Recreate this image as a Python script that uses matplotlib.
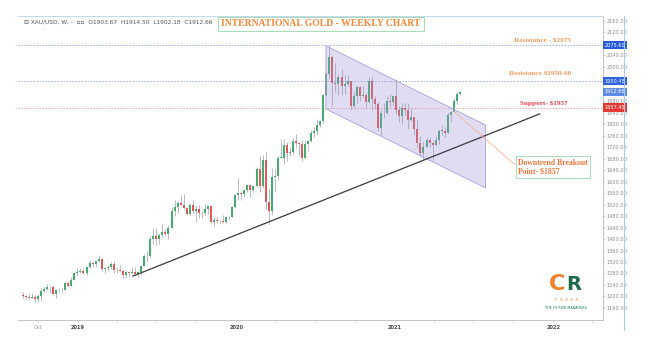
import numpy as np
import matplotlib
matplotlib.use("Agg")
import matplotlib.pyplot as plt
import matplotlib.dates as mdates
import matplotlib.transforms as mtransforms
from matplotlib.patches import Polygon
from matplotlib.lines import Line2D

# XAU/USD weekly candles, week of 2018-08-27 .. week of 2021-05-31
first_week = "2018-08-27"

opens = [1206, 1201, 1197, 1194, 1199, 1192, 1203, 1218, 1227, 1234, 1233, 1209, 1222, 1223, 1222, 1248, 1238, 1257, 1280,
         1285, 1289, 1282, 1303, 1318, 1314, 1322, 1329, 1294, 1298, 1302, 1313, 1292, 1291, 1290, 1275, 1286, 1280, 1286, 1277, 1284,
         1305, 1341, 1341, 1400, 1409, 1399, 1415, 1426, 1419, 1440, 1497, 1513, 1527, 1520, 1507, 1488, 1517, 1497, 1505, 1489,
         1490, 1505, 1514, 1459, 1468, 1462, 1464, 1460, 1476, 1478, 1510,
         1552, 1562, 1557, 1571, 1589, 1570, 1584, 1643, 1585, 1674, 1530, 1498, 1617, 1620, 1683, 1683, 1727, 1700, 1702, 1743,
         1735, 1730, 1684, 1730, 1743, 1771, 1775, 1799, 1810, 1902, 1975, 2035, 1944, 1940, 1964, 1934, 1940, 1950, 1862, 1900,
         1930, 1899, 1902, 1879, 1951, 1889, 1871, 1788, 1839, 1839, 1881, 1878,
         1898, 1849, 1828, 1856, 1848, 1813, 1824, 1784, 1734, 1700, 1719, 1745, 1733, 1729, 1744, 1777, 1777, 1769, 1831, 1843,
         1881, 1903.67]

highs = [1214, 1206, 1211, 1212, 1204, 1208, 1233, 1234, 1244, 1237, 1237, 1225, 1230, 1229, 1250, 1252, 1268, 1284, 1298,
         1298, 1298, 1304, 1326, 1319, 1323, 1346, 1333, 1300, 1311, 1320, 1325, 1298, 1310, 1296, 1289, 1290, 1303, 1303, 1289, 1306,
         1348, 1358, 1411, 1439, 1439, 1419, 1453, 1435, 1449, 1510, 1535, 1531, 1555, 1557, 1510, 1524, 1535, 1519, 1517, 1499,
         1518, 1516, 1515, 1478, 1478, 1466, 1485, 1480, 1481, 1514, 1553,
         1611, 1564, 1574, 1589, 1592, 1584, 1650, 1689, 1692, 1703, 1575, 1648, 1645, 1690, 1748, 1747, 1737, 1722, 1752, 1765,
         1737, 1745, 1745, 1745, 1779, 1789, 1818, 1815, 1904, 1983, 2075, 2040, 2015, 1976, 1992, 1973, 1973, 1952, 1917, 1933,
         1933, 1932, 1910, 1965, 1965, 1900, 1877, 1848, 1875, 1897, 1906, 1900,
         1959, 1865, 1875, 1875, 1875, 1855, 1825, 1815, 1760, 1739, 1755, 1755, 1740, 1759, 1784, 1798, 1790, 1843, 1846, 1890,
         1913, 1914.5]

lows = [1194, 1191, 1191, 1193, 1180, 1182, 1183, 1216, 1221, 1212, 1206, 1196, 1219, 1211, 1222, 1234, 1236, 1256, 1276,
        1280, 1279, 1276, 1298, 1302, 1303, 1320, 1290, 1280, 1290, 1297, 1281, 1281, 1290, 1266, 1266, 1267, 1278, 1275, 1268, 1276,
        1305, 1323, 1338, 1383, 1381, 1382, 1402, 1411, 1400, 1438, 1480, 1492, 1518, 1506, 1484, 1484, 1490, 1459, 1474, 1474,
        1483, 1487, 1456, 1445, 1457, 1452, 1456, 1455, 1471, 1477, 1508,
        1535, 1536, 1546, 1563, 1547, 1563, 1581, 1563, 1577, 1504, 1451, 1483, 1567, 1606, 1681, 1660, 1671, 1688, 1693, 1717,
        1693, 1671, 1684, 1705, 1737, 1757, 1763, 1789, 1806, 1900, 1962, 1863, 1911, 1902, 1902, 1906, 1934, 1849, 1860, 1873,
        1882, 1894, 1860, 1873, 1850, 1853, 1775, 1764, 1820, 1835, 1860, 1866,
        1836, 1808, 1802, 1830, 1785, 1810, 1761, 1717, 1687, 1677, 1719, 1721, 1677, 1723, 1730, 1763, 1756, 1769, 1808, 1843,
        1869, 1902.18]

closes = [1201, 1197, 1194, 1199, 1192, 1203, 1218, 1227, 1234, 1233, 1209, 1222, 1223, 1222, 1248, 1238, 1257, 1280, 1285,
          1289, 1282, 1303, 1318, 1314, 1322, 1329, 1294, 1298, 1302, 1313, 1292, 1291, 1290, 1275, 1286, 1280, 1286, 1277, 1284, 1305,
          1341, 1341, 1400, 1409, 1399, 1415, 1426, 1419, 1440, 1497, 1513, 1527, 1520, 1507, 1488, 1517, 1497, 1505, 1489, 1490,
          1505, 1514, 1459, 1468, 1462, 1464, 1460, 1476, 1478, 1510, 1552,
          1562, 1557, 1571, 1589, 1570, 1584, 1643, 1585, 1674, 1530, 1498, 1617, 1620, 1683, 1683, 1727, 1700, 1702, 1743, 1735,
          1730, 1684, 1730, 1743, 1771, 1775, 1799, 1810, 1902, 1975, 2035, 1944, 1940, 1964, 1934, 1940, 1950, 1862, 1900, 1930,
          1899, 1902, 1879, 1951, 1889, 1871, 1788, 1839, 1839, 1881, 1878, 1898,
          1849, 1828, 1856, 1848, 1813, 1824, 1784, 1734, 1700, 1719, 1745, 1733, 1729, 1744, 1777, 1777, 1769, 1831, 1843, 1881,
          1903.67, 1912.66]

# horizontal levels drawn on the chart
resist_hi = 2075.60
resist_mid = 1950.45
support = 1857.45
last_price = 1912.66

# drawn objects (date, price)
channel = [("2020-07-26", 2073), ("2021-07-29", 1797), ("2021-07-29", 1578), ("2020-07-26", 1853)]
trend = [("2019-05-08", 1271), ("2021-12-01", 1836)]
breakout = [("2021-05-18", 1843), ("2021-10-06", 1658)]

price_ticks = [2160, 2120, 2080, 2040, 2000, 1960, 1920, 1880, 1840, 1800, 1760, 1720, 1680, 1640, 1600,
               1560, 1520, 1480, 1440, 1400, 1360, 1320, 1280, 1240, 1200, 1160]
hidden_ticks = [2080, 1960, 1920]  # covered by the coloured price tags

tick_dates = ["2018-10-01", "2019-01-01", "2019-04-01", "2019-07-01", "2019-10-01",
              "2020-01-01", "2020-04-01", "2020-07-01", "2020-10-01",
              "2021-01-01", "2021-04-01", "2021-07-01", "2021-10-01",
              "2022-01-01", "2022-04-01"]
tick_labels = ["Oct", "2019", "", "", "", "2020", "", "", "", "2021", "", "", "", "2022", ""]


def d(s):
    return mdates.date2num(np.datetime64(s))


weeks = np.arange(np.datetime64(first_week), np.datetime64(first_week) + np.timedelta64(7 * len(closes), "D"),
                  np.timedelta64(7, "D"))
x = mdates.date2num(weeks)
o = np.array(opens, float)
h = np.array(highs, float)
l = np.array(lows, float)
c = np.array(closes, float)

fig = plt.figure(figsize=(6.5, 3.52), dpi=100)
ax = fig.add_axes([18 / 650, 1 - 320 / 352, 585 / 650, 304 / 352])

up = c >= o
green = "#46ab70"
red = "#e05858"
cols = np.where(up, green, red)
ax.vlines(x, l, h, color="#a0a0a0", lw=0.5, zorder=2)
ax.bar(x, np.maximum(np.abs(c - o), 1.5), bottom=np.minimum(o, c), width=4.6,
       color=cols, edgecolor="none", zorder=3)

# channel
pts = [(d(a), b) for a, b in channel]
ax.add_patch(Polygon(pts, closed=True, facecolor="#9a90d8", alpha=0.3, edgecolor="none", zorder=4))
ax.add_patch(Polygon(pts, closed=True, facecolor="none", edgecolor="#a8a0d8", lw=0.6, zorder=4))

# trend line and breakout pointer
ax.plot([d(a) for a, _ in trend], [b for _, b in trend], color="#3a3a3a", lw=0.9, zorder=5)
ax.plot([d(a) for a, _ in breakout], [b for _, b in breakout], color="#f7b49a", lw=0.6, zorder=5)

# level lines
ax.axhline(resist_hi, color="#8eaaf0", lw=0.6, ls=(0, (1.8, 1.8)), zorder=1)
ax.axhline(resist_mid, color="#8eaaf0", lw=0.6, ls=(0, (1.8, 1.8)), zorder=1)
ax.axhline(support, color="#f29a9a", lw=0.6, ls=(0, (1.8, 1.8)), zorder=1)

ax.set_xlim(d("2018-08-16"), d("2022-04-26"))
ax.set_ylim(1118, 2177)

ax.yaxis.tick_right()
ax.set_yticks(price_ticks)
ax.set_yticklabels(["" if v in hidden_ticks else "%.2f" % v for v in price_ticks])
ax.tick_params(axis="y", labelsize=3.6, labelcolor="#8a8a8a", length=1.5, width=0.4, color="#aaaaaa", pad=1)

ax.set_xticks([d(t) for t in tick_dates])
ax.set_xticklabels(tick_labels)
ax.tick_params(axis="x", labelsize=3.6, labelcolor="#444444", length=1.5, width=0.4, color="#aaaaaa", pad=2)
for lab in ax.get_xticklabels():
    if lab.get_text() == "Oct":
        lab.set_color("#999999")
    else:
        lab.set_fontweight("bold")

ax.spines["left"].set_visible(False)
ax.spines["bottom"].set_color("#c4c4c4")
ax.spines["right"].set_color("#c4c4c4")
ax.spines["top"].set_color("#c2d8ec")
for sp in ax.spines.values():
    sp.set_linewidth(0.7)

# price tags on the right scale
trans = mtransforms.blended_transform_factory(ax.transAxes, ax.transData)
for val, fc in [(resist_hi, "#2a5bd7"), (resist_mid, "#2f62e0"), (last_price, "#5c8ce6"), (support, "#e53935")]:
    ax.text(1.003, val, "%.2f" % val, transform=trans, ha="left", va="center", fontsize=3.6, color="white",
            zorder=10, clip_on=False,
            bbox=dict(boxstyle="square,pad=0.35", fc=fc, ec="none"))

# right outer border
fig.add_artist(Line2D([624 / 650, 624 / 650], [1 - 16 / 352, 1 - 330 / 352], color="#a9cbec", lw=0.8))

# header
ax.text(0.0103, 0.980, "\u229f XAU/USD, W, -  \u25ab\u25ab  O1903.67  H1914.50  L1902.18  C1912.66",
        transform=ax.transAxes, fontsize=4.2, color="#555555", va="center", ha="left")

# title
ax.text(0.518, 0.974, "INTERNATIONAL GOLD - WEEKLY CHART", transform=ax.transAxes, ha="center", va="center",
        fontsize=6.9, color="#f5883a", fontweight="bold", family="Liberation Serif", zorder=10,
        bbox=dict(boxstyle="square,pad=0.3", fc="white", ec="#a9dcb8", lw=0.8))

serif = dict(family="Liberation Serif", fontweight="bold", zorder=10)
ax.text(d("2021-12-08"), 2090, "Resistance - $2075", ha="center", va="center", fontsize=5.2, color="#f39a5a", **serif)
ax.text(d("2021-12-01"), 1975, "Resistance $1950-60", ha="center", va="center", fontsize=5.2, color="#f39a5a", **serif)
ax.text(d("2021-12-10"), 1874, "Support- $1957", ha="center", va="center", fontsize=5.2, color="#e8414b", **serif)
ax.text(d("2021-10-12"), 1680, "Downtrend Breakout\nPoint- $1857", ha="left", va="top", fontsize=5.6,
        color="#f07840", linespacing=1.15, **serif,
        bbox=dict(boxstyle="square,pad=0.3", fc="white", ec="#a9dcb8", lw=0.7))

# logo
ax.text(0.936, 0.118, "C", transform=ax.transAxes, ha="right", va="center", fontsize=16,
        color="#f07f2a", fontweight="bold", zorder=10)
ax.text(0.937, 0.118, "R", transform=ax.transAxes, ha="left", va="center", fontsize=14,
        color="#1d6b4a", fontweight="bold", zorder=10)
ax.text(0.937, 0.066, "F  O  R  E  X", transform=ax.transAxes, ha="center", va="center", fontsize=2.8,
        color="#f07f2a", zorder=10)
ax.text(0.937, 0.038, "THE FX RISK MANAGERS", transform=ax.transAxes, ha="center", va="center", fontsize=2.4,
        color="#1d7a5a", zorder=10)

fig.savefig("out.png", dpi=100)
